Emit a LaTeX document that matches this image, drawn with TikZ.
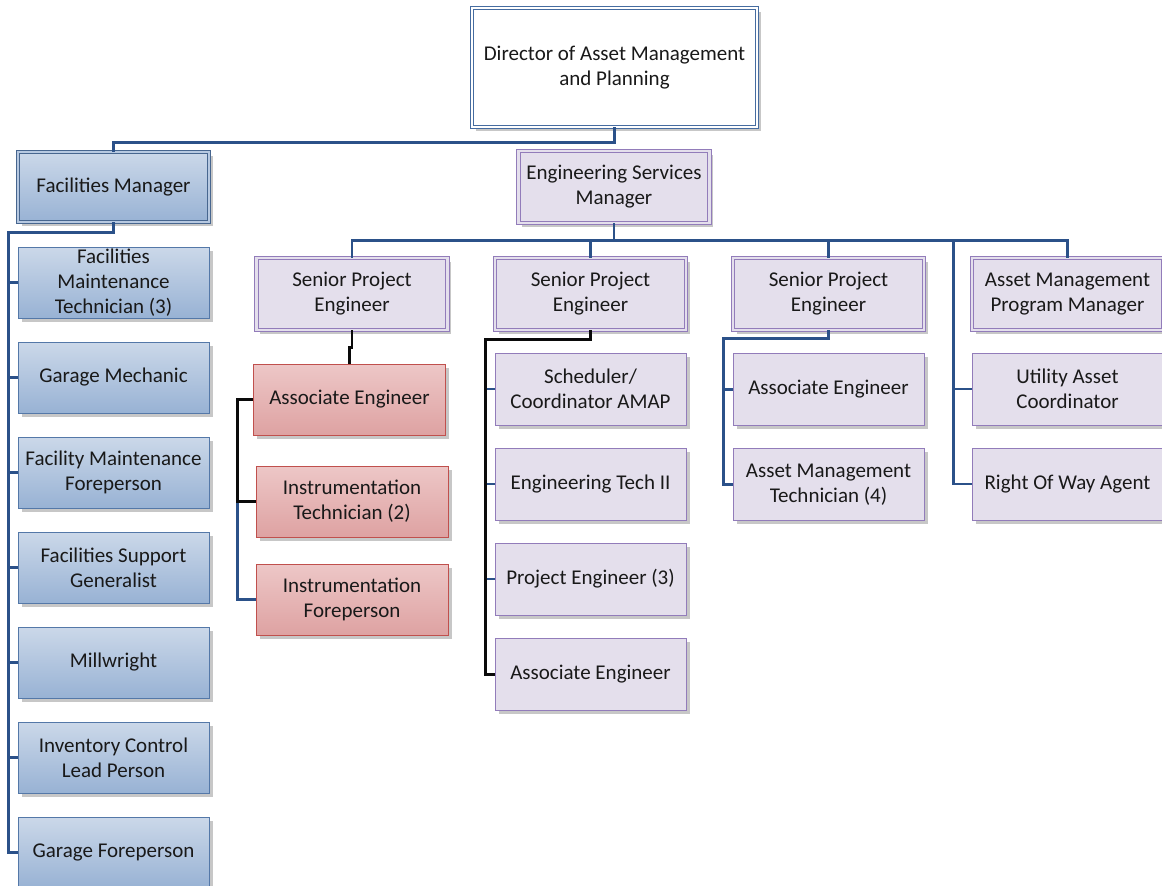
\documentclass[tikz,border=0pt]{standalone}
\usepackage{fontspec}
\setmainfont{Carlito}
\usetikzlibrary{shadows}

\definecolor{linkblue}{RGB}{43,81,137}
\definecolor{linkblack}{RGB}{10,10,10}
\definecolor{bluetop}{RGB}{203,216,233}
\definecolor{bluebot}{RGB}{152,178,212}
\definecolor{blueedge}{RGB}{84,120,168}
\definecolor{lavfill}{RGB}{228,223,236}
\definecolor{lavedge}{RGB}{146,124,186}
\definecolor{redtop}{RGB}{237,199,199}
\definecolor{redbot}{RGB}{222,162,162}
\definecolor{rededge}{RGB}{192,80,77}
\definecolor{diredge}{RGB}{70,108,160}

\begin{document}
\begin{tikzpicture}[x=1pt,y=-1pt,
  card/.style={rectangle, inner sep=0pt, align=center,
    font=\fontsize{21}{25}\selectfont, text=black!90,
    drop shadow={shadow xshift=3.5pt, shadow yshift=-3.5pt, fill=black!55, opacity=0.4}},
  bluecard/.style={card, top color=bluetop, bottom color=bluebot, draw=blueedge,
    line width=1pt, minimum width=191pt, minimum height=71pt},
  bluehead/.style={bluecard, draw=blueedge!85!black, line width=0.9pt,
    double=bluetop!60!bluebot, double distance=2.4pt, minimum height=70pt},
  lavcard/.style={card, fill=lavfill, draw=lavedge, line width=1pt,
    minimum width=191pt, minimum height=72pt},
  lavhead/.style={lavcard, line width=0.9pt, double=lavfill, double distance=2.4pt},
  redcard/.style={card, top color=redtop, bottom color=redbot, draw=rededge,
    line width=1pt, minimum width=192pt, minimum height=71pt},
  dircard/.style={card, fill=white, draw=diredge, line width=0.9pt, double=white,
    double distance=2.6pt, minimum width=285pt, minimum height=119pt},
  conn/.style={draw=linkblue, line width=2.7pt},
  blk/.style={draw=linkblack, line width=2.2pt}
]
\useasboundingbox (0,0) rectangle (1162,886);
\clip (0,0) rectangle (1162,886);

% top of the chart
\node[dircard] (dir) at (614.5,67.5) {Director of Asset Management\\and Planning};

% facilities branch
\node[bluehead] (fm) at (113.5,187) {Facilities Manager};
\node[bluecard] (fmt) at (113.5,282.5) {Facilities\\Maintenance\\Technician (3)};
\node[bluecard] (gm)  at (113.5,377.5) {Garage Mechanic};
\node[bluecard] (fmf) at (113.5,472.5) {Facility Maintenance\\Foreperson};
\node[bluecard] (fsg) at (113.5,567.5) {Facilities Support\\Generalist};
\node[bluecard] (mw)  at (113.5,662.5) {Millwright};
\node[bluecard] (icl) at (113.5,757.5) {Inventory Control\\Lead Person};
\node[bluecard] (gf)  at (113.5,852.5) {Garage Foreperson};

% engineering branch
\node[lavhead] (esm) at (614,187) {Engineering Services\\Manager};
\node[lavhead] (spea) at (352,294) {Senior Project\\Engineer};
\node[lavhead] (speb) at (590.5,294) {Senior Project\\Engineer};
\node[lavhead] (spec) at (828.5,294) {Senior Project\\Engineer};
\node[lavhead] (ampm) at (1067.5,294) {Asset Management\\Program Manager};

% instrumentation group
\node[redcard] (aea) at (349.5,399.5) {Associate Engineer};
\node[redcard] (itc) at (352,501.5) {Instrumentation\\Technician (2)};
\node[redcard] (ifo) at (352,599.5) {Instrumentation\\Foreperson};

% second project group
\node[lavcard] (sch) at (590.5,389) {Scheduler/\\Coordinator AMAP};
\node[lavcard] (eta) at (590.5,484) {Engineering Tech II};
\node[lavcard] (pen) at (590.5,579) {Project Engineer (3)};
\node[lavcard] (aeb) at (590.5,674.5) {Associate Engineer};

% third project group
\node[lavcard] (aec) at (828.5,389.5) {Associate Engineer};
\node[lavcard] (amt) at (828.5,484.5) {Asset Management\\Technician (4)};

% program manager group
\node[lavcard] (uac) at (1067.5,389) {Utility Asset\\Coordinator};
\node[lavcard] (row) at (1067.5,484) {Right Of Way Agent};

% connectors
\draw[conn] (dir.south) -- ++(0,15) -| (fm.north);
\foreach \c in {fmt,gm,fmf,fsg,mw,icl,gf}
  \draw[conn] (fm.south) -- ++(0,10) -| ([xshift=-9pt]\c.west) -- (\c.west);

\foreach \c in {spea,speb,spec,ampm}
  \draw[conn] (esm.south) -- ++(0,17) -| (\c.north);
\foreach \c in {uac,row}
  \draw[conn] (esm.south) -- ++(0,17) -| ([xshift=-18pt]\c.west) -- (\c.west);

\draw[blk] (spea.south) -- ++(0,17) -| (aea.north);
\draw[conn] ([xshift=-18pt]itc.west) |- (ifo.west);
\draw[blk] (aea.west) -- ++(-15.5,0) |- (itc.west);

\draw[blk] (speb.south) -- ++(0,9) -| ([xshift=-9pt]aeb.west) -- (aeb.west);
\foreach \c in {sch,eta,pen}
  \draw[conn] ([xshift=-8pt]\c.west) -- (\c.west);

\foreach \c in {aec,amt}
  \draw[conn] (spec.south) -- ++(0,8) -| ([xshift=-9pt]\c.west) -- (\c.west);
\end{tikzpicture}
\end{document}
